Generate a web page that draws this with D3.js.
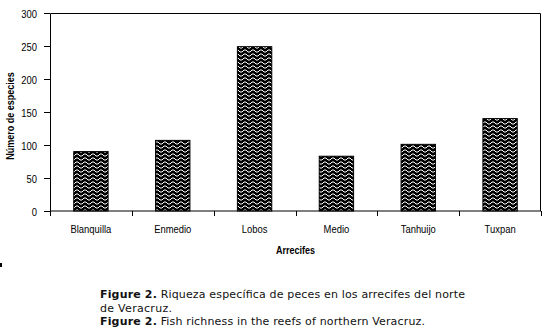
<!DOCTYPE html>
<html>
<head>
<meta charset="utf-8">
<script src="https://cdn.jsdelivr.net/npm/d3@7"></script>
<style>
  body { margin: 0; background: #fff; }
  svg { display: block; }
  .lab { font-family: "Liberation Sans", Arial, sans-serif; font-size: 11.5px; fill: #000; }
  .ttl { font-family: "Liberation Sans", Arial, sans-serif; font-size: 11px; font-weight: bold; fill: #000; }
  .cap { font-family: "DejaVu Sans", sans-serif; font-size: 11px; fill: #111; }
</style>
</head>
<body>
<div id="chart"></div>
<script>
var reefs = ["Blanquilla", "Enmedio", "Lobos", "Medio", "Tanhuijo", "Tuxpan"];
var species = [90, 107, 249, 83, 101, 140];
var yTicks = [0, 50, 100, 150, 200, 250, 300];

var W = 547, H = 333;
var margin = {top: 13, right: 6, bottom: 122, left: 50},
    width = W - margin.left - margin.right,
    height = H - margin.top - margin.bottom;
var narrow = 0.82; // squeeze to look like Arial Narrow

var svg = d3.select("#chart").append("svg")
    .attr("width", W)
    .attr("height", H);

// zigzag fill used by the bars
var pat = svg.append("defs").append("pattern")
    .attr("id", "zigzag")
    .attr("patternUnits", "userSpaceOnUse")
    .attr("width", 8)
    .attr("height", 4);
pat.append("rect").attr("width", 8).attr("height", 4).attr("fill", "#000");
pat.append("path")
    .attr("d", "M0,3 L2,1 L4,1 L6,3 L8,3")
    .attr("fill", "none")
    .attr("stroke", "#fff")
    .attr("stroke-width", 1);

var g = svg.append("g")
    .attr("transform", "translate(" + margin.left + "," + margin.top + ")");

var x_scale = d3.scaleBand()
    .domain(reefs)
    .range([0, width])
    .paddingInner(0.58)
    .paddingOuter(0.29);

var y_scale = d3.scaleLinear()
    .domain([0, 300])
    .range([height, 0]);

// frame on top and right
g.append("path")
    .attr("d", "M0.5,0.5 H" + (width - 0.5) + " V" + height)
    .attr("fill", "none")
    .attr("stroke", "#000")
    .attr("stroke-width", 1);

g.selectAll(".bar")
    .data(reefs)
    .enter().append("rect")
    .attr("class", "bar")
    .attr("x", function(d) { return x_scale(d); })
    .attr("y", function(d, i) { return y_scale(species[i]); })
    .attr("width", x_scale.bandwidth())
    .attr("height", function(d, i) { return height - y_scale(species[i]); })
    .attr("fill", "url(#zigzag)")
    .attr("stroke", "#000")
    .attr("stroke-width", 1);

var yAxis = g.append("g")
    .call(d3.axisLeft(y_scale).tickValues(yTicks).tickSize(6).tickSizeOuter(0));
yAxis.select(".domain").attr("stroke", "#000");
yAxis.selectAll(".tick line").attr("stroke", "#000");
yAxis.selectAll(".tick text")
    .attr("class", "lab")
    .attr("font-family", null).attr("font-size", null)
    .attr("x", -13 / narrow)
    .attr("dy", "0.36em")
    .attr("transform", "scale(" + narrow + ",1)");
yAxis.attr("font-family", null).attr("font-size", null);

// x axis: ticks sit on the category boundaries
var step = x_scale.step();
var xAxis = g.append("g")
    .attr("transform", "translate(0," + height + ")");
xAxis.append("line")
    .attr("x1", 0).attr("x2", width)
    .attr("stroke", "#000");
xAxis.selectAll(".bnd")
    .data(d3.range(reefs.length + 1))
    .enter().append("line")
    .attr("x1", function(i) { return Math.round(i * step) + 0.5; })
    .attr("x2", function(i) { return Math.round(i * step) + 0.5; })
    .attr("y1", 0).attr("y2", 5)
    .attr("stroke", "#000");
xAxis.selectAll(".lab")
    .data(reefs)
    .enter().append("text")
    .attr("class", "lab")
    .attr("transform", function(d) {
        return "translate(" + (x_scale(d) + x_scale.bandwidth() / 2) + ",22) scale(" + narrow + ",1)";
    })
    .attr("text-anchor", "middle")
    .text(function(d) { return d; });

svg.append("text")
    .attr("class", "ttl")
    .attr("transform", "translate(14,116) rotate(-90) scale(" + narrow + ",1)")
    .attr("text-anchor", "middle")
    .text("Número de especies");

svg.append("text")
    .attr("class", "ttl")
    .attr("transform", "translate(" + (margin.left + width / 2) + ",254) scale(" + narrow + ",1)")
    .attr("text-anchor", "middle")
    .text("Arrecifes");

// small scan mark at the left edge
svg.append("rect").attr("x", 0).attr("y", 263).attr("width", 2).attr("height", 4).attr("fill", "#000");

// caption
var l1 = svg.append("text").attr("class", "cap").attr("x", 100).attr("y", 298)
    .attr("textLength", 365).attr("lengthAdjust", "spacing");
l1.append("tspan").style("font-weight", "bold").text("Figure 2.");
l1.append("tspan").text(" Riqueza específica de peces en los arrecifes del norte");
svg.append("text").attr("class", "cap").attr("x", 100).attr("y", 312)
    .attr("textLength", 72).attr("lengthAdjust", "spacing").text("de Veracruz.");
var l3 = svg.append("text").attr("class", "cap").attr("x", 100).attr("y", 325)
    .attr("textLength", 325).attr("lengthAdjust", "spacing");
l3.append("tspan").style("font-weight", "bold").text("Figure 2.");
l3.append("tspan").text(" Fish richness in the reefs of northern Veracruz.");
</script>
</body>
</html>
